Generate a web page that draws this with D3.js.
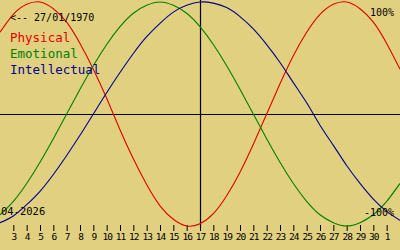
<!DOCTYPE html>
<html>
<head>
<meta charset="utf-8">
<script src="https://cdn.jsdelivr.net/npm/d3@7"></script>
<style>
  body { margin: 0; background: #e0d080; }
  svg { display: block; }
  text { font-family: "DejaVu Sans Mono", "Liberation Mono", monospace; }
</style>
</head>
<body>
<svg id="chart"></svg>
<script>
// days shown across the window: index 0 = 2 April, index 30 = 2 May
var days = [2, 3, 4, 5, 6, 7, 8, 9, 10, 11, 12, 13, 14, 15, 16, 17, 18, 19, 20, 21, 22, 23, 24, 25, 26, 27, 28, 29, 30, 1, 2];

// values, one per day (-1 .. 1)
var physical = [0.73, 0.89, 0.98, 1.00, 0.94, 0.82, 0.63, 0.40, 0.14, -0.14, -0.40, -0.63, -0.82, -0.94, -1.00, -0.98,
  -0.89, -0.73, -0.52, -0.27, 0.00, 0.27, 0.52, 0.73, 0.89, 0.98, 1.00, 0.94, 0.82, 0.63, 0.40];
var emotional = [-0.90, -0.78, -0.62, -0.43, -0.22, 0.00, 0.22, 0.43, 0.62, 0.78, 0.90, 0.97, 1.00, 0.97, 0.90, 0.78,
  0.62, 0.43, 0.22, 0.00, -0.22, -0.43, -0.62, -0.78, -0.90, -0.97, -1.00, -0.97, -0.90, -0.78, -0.62];
var intellectual = [-0.97, -0.91, -0.81, -0.69, -0.54, -0.37, -0.19, 0.00, 0.19, 0.37, 0.54, 0.69, 0.81, 0.91, 0.97, 1.00,
  0.99, 0.95, 0.87, 0.76, 0.62, 0.46, 0.28, 0.10, -0.10, -0.28, -0.46, -0.62, -0.76, -0.87, -0.95];

var seriesNames = ["Physical", "Emotional", "Intellectual"];
var seriesColors = ["#e00000", "#008000", "#000090"];
var today = 15;

var width = 400, height = 250;

var svg = d3.select("#chart")
  .attr("width", width)
  .attr("height", height);

svg.append("rect").attr("width", width).attr("height", height).attr("fill", "#e0d080");

var x = d3.scaleLinear().domain([0, days.length - 1]).range([0, width]);
var y = d3.scaleLinear().domain([-1, 1]).range([226, 2]);

// centre lines
svg.append("line")
  .attr("x1", 0).attr("x2", width)
  .attr("y1", Math.round(y(0)) + 0.5).attr("y2", Math.round(y(0)) + 0.5)
  .attr("stroke", "#000").attr("stroke-width", 1);
svg.append("line")
  .attr("x1", Math.round(x(today)) + 0.5).attr("x2", Math.round(x(today)) + 0.5)
  .attr("y1", 0).attr("y2", 228)
  .attr("stroke", "#000").attr("stroke-width", 1.2);

// day axis
var xAxis = d3.axisBottom(x)
  .tickValues(d3.range(1, days.length - 1))
  .tickFormat(function (i) { return days[i]; })
  .tickSize(6)
  .tickPadding(2);

var ax = svg.append("g")
  .attr("transform", "translate(0,225)")
  .call(xAxis);
ax.select(".domain").remove();
ax.selectAll("line").attr("stroke", "#000");
ax.selectAll("text").attr("fill", "#000").style("font-size", "9.5px")
  .style("letter-spacing", "-1px")
  .style("font-family", "'DejaVu Sans Mono', monospace");

// curves
var line = d3.line()
  .x(function (d, i) { return x(i); })
  .y(function (d) { return y(d); })
  .curve(d3.curveNatural);

[physical, emotional, intellectual].forEach(function (s, k) {
  svg.append("path")
    .datum(s)
    .attr("d", line)
    .attr("fill", "none")
    .attr("stroke", seriesColors[k])
    .attr("stroke-width", 1.1);
});

// labels
svg.append("text").attr("x", 10).attr("y", 21).text("<-- 27/01/1970")
  .style("font-size", "10px").attr("fill", "#000");
svg.append("text").attr("x", 394).attr("y", 16).attr("text-anchor", "end").text("100%")
  .style("font-size", "10px").attr("fill", "#000");
svg.append("text").attr("x", 394).attr("y", 216).attr("text-anchor", "end").text("-100%")
  .style("font-size", "10px").attr("fill", "#000");
svg.append("text").attr("x", 1).attr("y", 215).text("04-2026")
  .style("font-size", "10.5px").attr("fill", "#000");

seriesNames.forEach(function (n, k) {
  svg.append("text")
    .attr("x", 10).attr("y", 42 + k * 16)
    .text(n)
    .style("font-size", "12.5px")
    .attr("fill", seriesColors[k]);
});
</script>
</body>
</html>
